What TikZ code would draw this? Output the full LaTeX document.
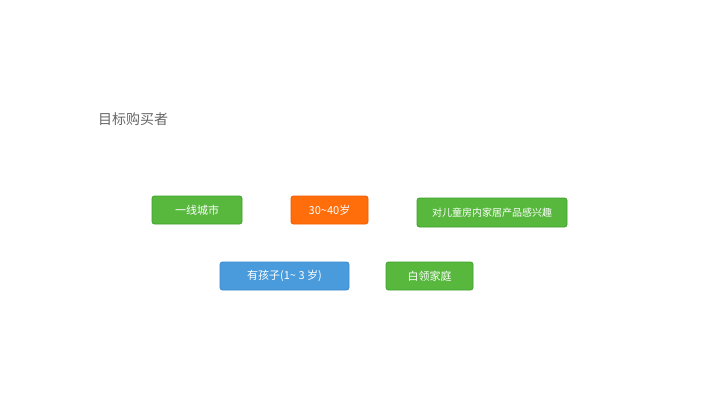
\documentclass[tikz,border=0pt]{standalone}
\usepackage{fontspec}
\setmainfont{Noto Sans CJK SC}
\definecolor{gfill}{HTML}{57B83D}
\definecolor{gdraw}{HTML}{3FA02A}
\definecolor{ofill}{HTML}{FF6E0A}
\definecolor{odraw}{HTML}{F05A00}
\definecolor{bfill}{HTML}{4A9BDC}
\definecolor{bdraw}{HTML}{3A88CC}
\definecolor{tcol}{HTML}{666666}
\tikzset{
 tag/.style={rounded corners=2.5pt, text=white, font=\fontsize{11}{13}\selectfont, inner sep=0pt, line width=0.8pt},
 green/.style={tag, fill=gfill, draw=gdraw},
 orange/.style={tag, fill=ofill, draw=odraw},
 blue/.style={tag, fill=bfill, draw=bdraw}
}
\begin{document}
\begin{tikzpicture}[x=1pt,y=-1pt]
\useasboundingbox (0,0) rectangle (724,407);
\node[anchor=west, text=tcol, font=\fontsize{14}{16}\selectfont, inner sep=0pt] (title) at (98,119) {目标购买者};
\node[green, minimum width=90pt, minimum height=28pt] (a) at (197,210) {一线城市};
\node[orange, minimum width=77pt, minimum height=28pt] (b) at (329.5,210) {30\textasciitilde 40岁};
\node[green, minimum width=150pt, minimum height=29pt, font=\fontsize{10}{12}\selectfont] (c) at (492,212.5) {对儿童房内家居产品感兴趣};
\node[blue, minimum width=129pt, minimum height=28pt] (d) at (284.5,276) {有孩子(1\textasciitilde\ 3 岁)};
\node[green, minimum width=87pt, minimum height=28pt] (e) at (429.5,276) {白领家庭};
\end{tikzpicture}
\end{document}
